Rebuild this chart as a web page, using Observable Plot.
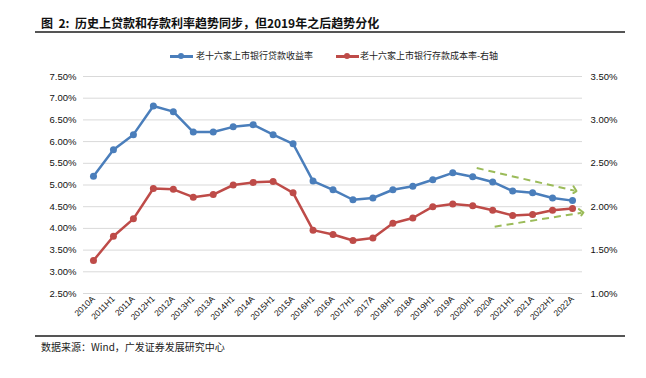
<!DOCTYPE html>
<html>
<head>
<meta charset="utf-8">
<script src="https://cdn.jsdelivr.net/npm/d3@7"></script>
<script src="https://cdn.jsdelivr.net/npm/@observablehq/plot@0.6"></script>
<style>
  html, body { margin: 0; padding: 0; background: #fff; }
  #wrap { position: relative; width: 646px; height: 378px; overflow: hidden; font-family: "Noto Sans CJK SC", sans-serif; }
  #wrap svg { position: absolute; left: 0; top: 0; }
  .abs { position: absolute; white-space: nowrap; }
  .title { left: 41px; top: 15px; font-size: 12px; line-height: 16px; font-weight: bold; color: #111; }
  .rule { position: absolute; left: 35px; width: 590px; height: 2px; background: #555; }
  .leg { top: 49px; font-size: 9px; line-height: 13px; color: #222; }
  .legline { position: absolute; width: 23px; height: 2.5px; top: 55px; }
  .legdot { position: absolute; width: 6px; height: 6px; border-radius: 50%; top: 53px; }
  .caption { left: 41px; top: 340px; font-size: 10px; line-height: 14px; color: #222; }
</style>
</head>
<body>
<div id="wrap">
  <div class="abs title">图&nbsp; 2:&nbsp; 历史上贷款和存款利率趋势同步，但2019年之后趋势分化</div>
  <div class="rule" style="top:31px"></div>
  <div class="legline" style="left:170px;background:#4A7EBB"></div>
  <div class="legdot" style="left:178px;background:#4A7EBB"></div>
  <div class="abs leg" style="left:196px">老十六家上市银行贷款收益率</div>
  <div class="legline" style="left:336px;background:#BE4B48"></div>
  <div class="legdot" style="left:344px;background:#BE4B48"></div>
  <div class="abs leg" style="left:360px">老十六家上市银行存款成本率-右轴</div>
  <div class="rule" style="top:335px"></div>
  <div class="abs caption">数据来源：Wind，广发证券发展研究中心</div>
</div>
<script>
const categories = ["2010A","2011H1","2011A","2012H1","2012A","2013H1","2013A","2014H1","2014A","2015H1","2015A","2016H1","2016A","2017H1","2017A","2018H1","2018A","2019H1","2019A","2020H1","2020A","2021H1","2021A","2022H1","2022A"];
// 老十六家上市银行贷款收益率 (left axis, %)
const loanYield = [5.20,5.81,6.16,6.82,6.69,6.22,6.22,6.34,6.39,6.16,5.95,5.09,4.89,4.66,4.70,4.89,4.97,5.12,5.28,5.19,5.07,4.86,4.82,4.70,4.64];
// 老十六家上市银行存款成本率 (right axis, %)
const depositCost = [1.38,1.66,1.86,2.21,2.20,2.11,2.14,2.25,2.28,2.29,2.16,1.73,1.68,1.61,1.64,1.81,1.87,2.00,2.03,2.01,1.96,1.90,1.91,1.96,1.98];
// axis ticks
const leftTicks = [2.5,3.0,3.5,4.0,4.5,5.0,5.5,6.0,6.5,7.0,7.5];
const rightTicks = [1.0,1.5,2.0,2.5,3.0,3.5];
// trend arrows (x as category index, y on left-axis scale)
const trendX1 = [19.2, 20.1];
const trendY1 = [5.39, 4.04];
const trendX2 = [24.1, 24.45];
const trendY2 = [4.87, 4.36];

// right axis value -> left axis scale
const toLeft = r => (r + 0.25) * 2;
const fromLeft = l => l / 2 - 0.25;

const data = categories.map((c, i) => ({i, c, loan: loanYield[i], dep: toLeft(depositCost[i])}));
const arrows = trendX1.map((x, k) => ({x1: x, y1: trendY1[k], x2: trendX2[k], y2: trendY2[k]}));

const blue = "#4A7EBB", red = "#BE4B48", green = "#9BBB59";

const chart = Plot.plot({
  width: 646,
  height: 378,
  marginTop: 76,
  marginBottom: 85,
  marginLeft: 83,
  marginRight: 64,
  style: {fontFamily: "'Liberation Sans', Arial, sans-serif", fontSize: "9.5px", color: "#111", background: "transparent", overflow: "visible"},
  x: {type: "linear", domain: [-0.5, 24.5]},
  y: {domain: [2.5, 7.5]},
  marks: [
    Plot.gridY(leftTicks, {stroke: "#d9d9d9", strokeOpacity: 1, strokeWidth: 1}),
    Plot.axisY(leftTicks, {anchor: "left", tickSize: 0, tickPadding: 7, label: null, tickFormat: d => d.toFixed(2) + "%"}),
    Plot.axisY(rightTicks.map(toLeft), {anchor: "right", tickSize: 0, tickPadding: 8, label: null, tickFormat: d => fromLeft(d).toFixed(2) + "%"}),
    Plot.axisX(d3.range(categories.length), {anchor: "bottom", tickSize: 0, tickPadding: 4, tickRotate: -45, label: null, fontSize: 8.5, tickFormat: i => categories[i]}),
    Plot.link(arrows, {x1: "x1", y1: "y1", x2: "x2", y2: "y2", stroke: green, strokeWidth: 2, strokeDasharray: "7,5", markerEnd: "arrow"}),
    Plot.line(data, {x: "i", y: "loan", stroke: blue, strokeWidth: 2.5}),
    Plot.dot(data, {x: "i", y: "loan", r: 3.5, fill: blue}),
    Plot.line(data, {x: "i", y: "dep", stroke: red, strokeWidth: 2.5}),
    Plot.dot(data, {x: "i", y: "dep", r: 3.5, fill: red})
  ]
});
document.getElementById("wrap").prepend(chart);
</script>
</body>
</html>
